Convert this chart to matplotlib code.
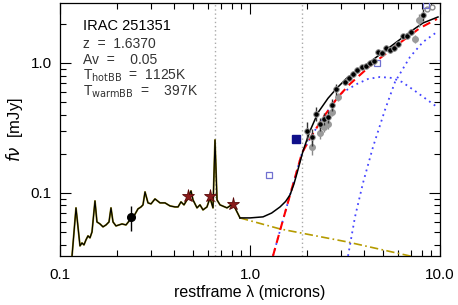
import numpy as np
import matplotlib
matplotlib.use('Agg')
import matplotlib.pyplot as plt
from matplotlib.ticker import FixedLocator, FixedFormatter, LogLocator, NullFormatter

plt.rcParams['font.family'] = ['Liberation Sans', 'DejaVu Sans']

# template spectrum (microns, mJy)
spec_x = [0.1157, 0.1214, 0.1274, 0.1305, 0.1337, 0.1370, 0.1404, 0.1438, 0.1474, 0.1528,
          0.1565, 0.1624, 0.1684, 0.1747, 0.1811, 0.1855, 0.1901, 0.1971, 0.2044, 0.2120,
          0.2225, 0.2336, 0.2452, 0.2573, 0.2669, 0.2734, 0.2802, 0.2905, 0.3013, 0.3162,
          0.3360, 0.3569, 0.3792, 0.4030, 0.4180, 0.4334, 0.4494, 0.4661, 0.4893, 0.5012,
          0.5261, 0.5455, 0.5657, 0.5937, 0.6158, 0.6387, 0.6544, 0.6705, 0.6952, 0.7568,
          0.8139, 0.8859]
spec_y = [0.0327, 0.0767, 0.0391, 0.0412, 0.0398, 0.0435, 0.0467, 0.0451, 0.0501, 0.0868,
          0.0598, 0.0577, 0.0548, 0.0567, 0.0598, 0.0767, 0.0598, 0.0557, 0.0567, 0.0577,
          0.0567, 0.0620, 0.0665, 0.0753, 0.0780, 0.0809, 0.1018, 0.0838, 0.0823, 0.0899,
          0.0838, 0.0838, 0.0794, 0.0780, 0.0780, 0.0853, 0.0809, 0.0884, 0.1036, 0.0884,
          0.0767, 0.0809, 0.0740, 0.0780, 0.0915, 0.0767, 0.2557, 0.0884, 0.0809, 0.0767,
          0.0823, 0.0642]

# template extension
ext_x = [0.8859, 1.439, 3.240, 6.952, 10.0]
ext_y = [0.0642, 0.0528, 0.0420, 0.0327, 0.02945]

# total model
tot_x = [0.8859, 1.0, 1.171, 1.30, 1.439, 1.54, 1.624, 1.70, 1.768, 1.901, 2.069, 2.280, 2.574,
         2.871, 3.240, 3.793, 4.281, 5.456, 6.952, 8.138, 9.761]
tot_y = [0.0642, 0.0642, 0.0654, 0.0700, 0.0780, 0.0860, 0.0965, 0.1160, 0.1420, 0.2100,
         0.3000, 0.4150, 0.535, 0.642, 0.767, 0.899, 1.018, 1.328, 1.732, 2.031, 2.259]

# hot + warm blackbody
bb_x = [1.321, 1.492, 1.664, 1.878, 2.120, 2.481, 2.906, 3.360, 4.281, 5.938, 7.848, 9.643]
bb_y = [0.0327, 0.0620, 0.1093, 0.2031, 0.2794, 0.3981, 0.5476, 0.6895, 0.948, 1.375, 1.859, 2.180]

# hot blackbody (1125K)
hot_x = [1.321, 1.492, 1.664, 1.878, 2.120, 2.481, 2.976, 3.658, 4.179, 4.833, 5.588, 6.310, 7.386, 9.643]
hot_y = [0.0327, 0.0620, 0.1093, 0.2031, 0.2794, 0.3981, 0.5776, 0.6895, 0.7532, 0.7800, 0.767, 0.7142, 0.609, 0.4587]

# warm blackbody (397K)
warm_x = [3.281, 3.570, 3.934, 4.441, 5.133, 5.797, 6.952, 8.138, 9.643]
warm_y = [0.0327, 0.0654, 0.1194, 0.2259, 0.435, 0.714, 1.112, 1.450, 1.732]

# photometry (black)
obs_x = [1.995, 2.120, 2.225, 2.335, 2.452, 2.574, 2.702, 2.836, 3.162, 3.320, 3.484, 3.658,
         3.886, 4.078, 4.281, 4.494, 4.717, 4.951, 5.197, 5.456, 5.727, 6.012, 6.388, 6.705,
         7.037, 8.138]
obs_y = [0.2998, 0.2697, 0.4052, 0.3396, 0.3709, 0.3842, 0.4751, 0.631, 0.714, 0.767, 0.8229,
         0.8835, 0.9316, 0.948, 1.0, 1.036, 1.215, 1.194, 1.304, 1.259, 1.304, 1.400, 1.613,
         1.613, 1.732, 2.340]
obs_err = [0.05, 0.04, 0.05, 0.04, 0.04, 0.04, 0.05, 0.06, 0.04, 0.04, 0.04, 0.04,
           0.04, 0.04, 0.05, 0.05, 0.06, 0.06, 0.06, 0.06, 0.06, 0.07, 0.07, 0.07,
           0.08, 0.25]

# photometry (grey, uncorrected)
grey_x = [2.120, 2.335, 2.452, 2.574, 2.702, 2.906, 7.386, 7.753]
grey_y = [0.2259, 0.2894, 0.322, 0.3396, 0.4199, 0.5476, 1.530, 2.142]
grey_err = [0.03, 0.03, 0.03, 0.03, 0.03, 0.04, 0.10, 0.25]
open_x = [8.543, 9.077]
open_y = [2.603, 2.696]

uv_x, uv_y, uv_err = [0.2365], [0.0654], [0.0145]
star_x = [0.4717, 0.6158, 0.8139]
star_y = [0.0948, 0.0948, 0.0823]
sq_x, sq_y = [1.747], [0.2602]
osq_x = [1.259, 4.660, 8.44]
osq_y = [0.1376, 1.0, 2.794]

lines_x = [0.6563, 1.875]

fig = plt.figure(figsize=(4.58, 3.05), dpi=100)
ax = fig.add_axes([0.131, 0.1607, 0.8297, 0.8295])
ax.set_xscale('log')
ax.set_yscale('log')

for lx in lines_x:
    ax.axvline(lx, color='#aaaaaa', ls=(0, (1, 2)), lw=1.0, zorder=1)

ax.plot(spec_x, spec_y, color='#8a7d00', lw=1.3, zorder=3)
ax.plot(spec_x, spec_y, color='black', lw=0.8, zorder=4)
ax.plot(ext_x, ext_y, color='#b59b00', lw=1.2, ls=(0, (5, 2, 1, 2)), zorder=3)
ax.plot(hot_x, hot_y, color='#4444ff', lw=1.3, ls=(0, (1, 2.2)), zorder=3)
ax.plot(warm_x, warm_y, color='#4444ff', lw=1.3, ls=(0, (1, 2.2)), zorder=3)
ax.plot(bb_x, bb_y, color='red', lw=1.5, ls=(0, (4, 2.5)), zorder=4)
ax.plot(tot_x, tot_y, color='black', lw=1.1, zorder=5)

ax.errorbar(grey_x, grey_y, yerr=grey_err, fmt='o', ms=4, color='#9a9a9a',
            ecolor='#8a8a8a', elinewidth=1, capsize=0, zorder=6)
ax.errorbar(open_x, open_y, yerr=[0.1, 0.1], fmt='o', ms=3.5, mfc='white', mec='#8a8a8a',
            ecolor='#8a8a8a', elinewidth=1, capsize=0, zorder=6)
ax.errorbar(obs_x, obs_y, yerr=obs_err, fmt='o', ms=4, mfc='black', mec='#9a9a9a',
            mew=0.7, ecolor='#333333', elinewidth=1, capsize=0, zorder=7)
ax.errorbar(uv_x, uv_y, yerr=uv_err, fmt='o', ms=5.5, color='black', ecolor='black',
            elinewidth=1, capsize=0, zorder=7)
ax.plot(star_x, star_y, '*', ms=9.5, color='#8b1a1a', mec='#5a0a0a', mew=0.6, zorder=7)
ax.plot(sq_x, sq_y, 's', ms=6, color='#10108a', zorder=7)
ax.plot(osq_x, osq_y, 's', ms=5, mfc='none', mec='#7070d0', mew=0.9, zorder=7)

ax.set_xlim(0.1, 10.0)
ax.set_ylim(0.0327, 2.894)

ax.xaxis.set_major_locator(FixedLocator([0.1, 1.0, 10.0]))
ax.xaxis.set_major_formatter(FixedFormatter(['0.1', '1.0', '10.0']))
ax.yaxis.set_major_locator(FixedLocator([0.1, 1.0]))
ax.yaxis.set_major_formatter(FixedFormatter(['0.1', '1.0']))
ax.xaxis.set_minor_locator(LogLocator(base=10, subs=np.arange(2, 10)))
ax.yaxis.set_minor_locator(LogLocator(base=10, subs=np.arange(2, 10)))
ax.xaxis.set_minor_formatter(NullFormatter())
ax.yaxis.set_minor_formatter(NullFormatter())
ax.tick_params(which='both', direction='in', top=True, right=True, width=0.8,
               labelsize=11, colors='black')
ax.tick_params(which='major', length=8)
ax.tick_params(which='minor', length=4)
ax.tick_params(axis='x', pad=9)
ax.tick_params(axis='y', pad=6)
for s in ax.spines.values():
    s.set_linewidth(0.9)

ax.set_xlabel('restframe \u03bb (microns)', fontsize=11.5, labelpad=2)
ax.set_ylabel(r'$f\nu$  [mJy]', fontsize=12, labelpad=4)

ax.text(0.06, 0.935, 'IRAC 251351', transform=ax.transAxes, fontsize=10.5,
        color='black', va='top')
info = ['z  =  1.6370', 'Av  =    0.05', r'T$_{\rm hotBB}$  =  1125K',
        r'T$_{\rm warmBB}$  =    397K']
for i, t in enumerate(info):
    ax.text(0.06, 0.865 - i * 0.061, t, transform=ax.transAxes, fontsize=10,
            color='#333333', va='top')

fig.savefig('out.png', dpi=100)
